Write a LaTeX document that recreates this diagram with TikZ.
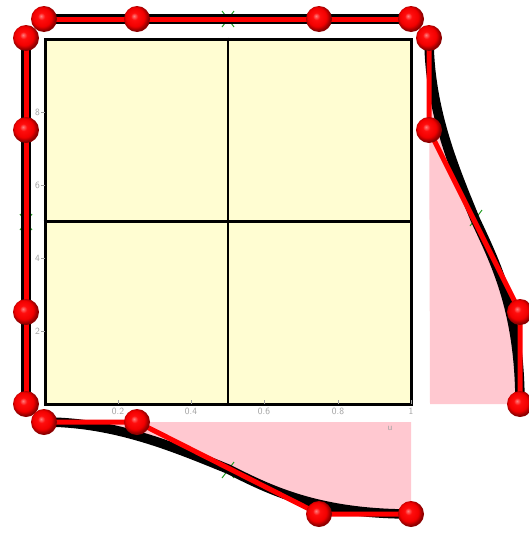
\documentclass[tikz,border=0pt]{standalone}
\usetikzlibrary{shapes.geometric}
\definecolor{paleyellow}{RGB}{255,253,210}
\definecolor{pinkfill}{RGB}{255,200,208}
\definecolor{tickgray}{RGB}{160,160,160}
\definecolor{crossgreen}{RGB}{40,160,40}
\pgfdeclareradialshading{redballshade}{\pgfpoint{-6bp}{6bp}}{color(0bp)=(red!50!white); color(7bp)=(red!95!white); color(18bp)=(red!95!black); color(25bp)=(red!55!black); color(50bp)=(red!55!black)}
\tikzset{
  ctrlball/.style={circle, inner sep=0pt, minimum size=26pt, shading=redballshade},
  curveline/.style={line width=9.5pt, black},
  polyline/.style={line width=5pt, red},
  ticklab/.style={font=\sffamily\fontsize{9.5}{10}\selectfont, text=tickgray, inner sep=1pt},
  greenx/.style={crossgreen, line width=1pt},
}
\begin{document}
\begin{tikzpicture}[x=1pt,y=-1pt]
\useasboundingbox (0,0) rectangle (528,536);
% control points
\coordinate (L0) at (26,38);  \coordinate (L1) at (26,130);  \coordinate (L2) at (26,312);  \coordinate (L3) at (26,404);
\coordinate (T0) at (44,19);  \coordinate (T1) at (137,19);  \coordinate (T2) at (319,19);  \coordinate (T3) at (411,19);
\coordinate (R0) at (429,38); \coordinate (R1) at (429,130); \coordinate (R2) at (520,312); \coordinate (R3) at (520,404);
\coordinate (B0) at (44,422); \coordinate (B1) at (137,422); \coordinate (B2) at (319,514); \coordinate (B3) at (411,514);
\coordinate (RM) at (475,219);
\coordinate (BM) at (228,469);
\coordinate (RP) at (430,404);
\coordinate (BP) at (411,422);
% pink areas
\fill[pinkfill] (R0) .. controls (429,110) and (455,170) .. (RM) .. controls (495,262) and (520,310) .. (R3) -- (RP) -- cycle;
\fill[pinkfill] (B0) .. controls (116,422) and (176,448) .. (BM) .. controls (268,489) and (316,514) .. (B3) -- (BP) -- cycle;
% parameter square
\node[draw=black, line width=3pt, fill=paleyellow, rectangle, inner sep=0pt, minimum width=366pt, minimum height=365pt] (sq) at (228,221.5) {};
\draw[line width=2.5pt] (sq.north) -- (sq.south);
\draw[line width=2.5pt] (sq.west) -- (sq.east);
% ticks and labels
\foreach \xx/\lab in {118/0.2,191/0.4,264/0.6,338/0.8,411/1}{
  \draw[tickgray, line width=0.6pt] (\xx,404) -- (\xx,400);
  \node[ticklab, anchor=north] at (\xx,407) {\lab};
}
\foreach \yy/\lab in {112/8,185/6,258/4,331/2}{
  \draw[tickgray, line width=0.6pt] (41,\yy) -- (45,\yy);
  \node[ticklab, anchor=east] at (41,\yy) {\lab};
}
\node[ticklab] at (390,428) {u};
% green midpoint crosses
\foreach \cx/\cy in {228/19,26/222,476/218,228/470}{
  \draw[greenx] (\cx-6,\cy-8) -- (\cx+6,\cy+8);
  \draw[greenx] (\cx-6,\cy+8) -- (\cx+6,\cy-8);
}
% black curves
\draw[curveline] (L0) .. controls (L1) and (L2) .. (L3);
\draw[curveline] (T0) .. controls (T1) and (T2) .. (T3);
\draw[curveline] (R0) .. controls (429,110) and (455,170) .. (RM) .. controls (495,262) and (520,310) .. (R3);
\draw[curveline] (B0) .. controls (116,422) and (176,448) .. (BM) .. controls (268,489) and (316,514) .. (B3);
% red control polygons
\draw[polyline] (L0) -- (L1) -- (L2) -- (L3);
\draw[polyline] (T0) -- (T1) -- (T2) -- (T3);
\draw[polyline] (R0) -- (R1) -- (R2) -- (R3);
\draw[polyline] (B0) -- (B1) -- (B2) -- (B3);
% balls
\foreach \p in {L0,L1,L2,L3,T0,T1,T2,T3,R0,R1,R2,R3,B0,B1,B2,B3}{
  \node[ctrlball] (ball\p) at (\p) {};
}
\end{tikzpicture}
\end{document}
